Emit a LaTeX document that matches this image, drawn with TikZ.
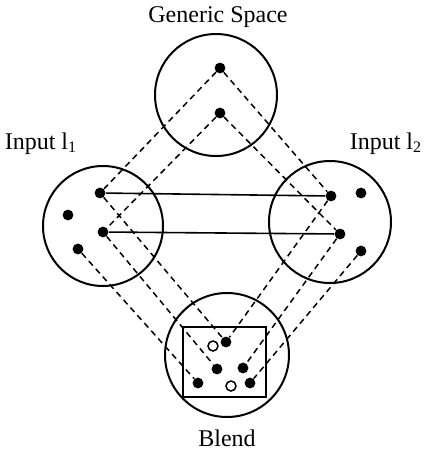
\documentclass[tikz,border=0pt]{standalone}
\usepackage{fontspec}
\setmainfont{Liberation Serif}
\usetikzlibrary{positioning, calc}

\begin{document}
\begin{tikzpicture}[
    x=0.5pt, y=-0.5pt,
    space/.style={draw, circle, line width=1pt, inner sep=0pt},
    dot/.style={circle, fill, inner sep=0pt, minimum size=5.4pt},
    hole/.style={circle, draw, line width=0.75pt, inner sep=0pt, minimum size=5pt},
    link/.style={dash pattern=on 3pt off 2.2pt, line width=0.75pt},
    tie/.style={line width=0.8pt},
    lbl/.style={font=\fontsize{12}{14}\selectfont, anchor=base}
]
    \useasboundingbox (0,0) rectangle (425,452);
    % mental spaces
    \node[space, minimum size=61pt] (gen) at (216,95) {};
    \node[space, minimum size=60pt] (inA) at (103,226) {};
    \node[space, minimum size=61pt] (inB) at (330,222) {};
    \node[space, minimum size=62pt] (bld) at (227,355) {};
    \draw[line width=1pt] (183,327) rectangle (266,397);
    % labels
    \node[lbl] (genlbl) at (218,22) {Generic Space};
    \node[lbl] (inAlbl) at (41,149) {Input l\textsubscript{1}};
    \node[lbl] (inBlbl) at (386,149) {Input l\textsubscript{2}};
    \node[lbl] (bldlbl) at (227,446) {Blend};
    % elements
    \node[dot] (g1) at (220,68) {};
    \node[dot] (g2) at (220,113) {};
    \node[dot] (a1) at (100,193) {};
    \node[dot] (a2) at (68,215) {};
    \node[dot] (a3) at (103,232) {};
    \node[dot] (a4) at (78,249) {};
    \node[dot] (b1) at (331,196) {};
    \node[dot] (b2) at (361,193) {};
    \node[dot] (b3) at (340,234) {};
    \node[dot] (b4) at (361,251) {};
    \node[dot] (c1) at (226,342) {};
    \node[hole] (c2) at (213,346) {};
    \node[dot] (c3) at (217,369) {};
    \node[dot] (c4) at (243,368) {};
    \node[dot] (c5) at (198,383) {};
    \node[hole] (c6) at (231,386) {};
    \node[dot] (c7) at (250,383) {};
    % cross-space mappings
    \draw[tie] (a1) -- (b1);
    \draw[tie] (a3) -- (b3);
    % projections
    \draw[link] (g1) -- (a1);
    \draw[link] (g1) -- (b1);
    \draw[link] (g2) -- (a3);
    \draw[link] (g2) -- (b3);
    \draw[link] (a1) -- (c1);
    \draw[link] (a3) -- (c3);
    \draw[link] (a4) -- (c5);
    \draw[link] (b1) -- (c1);
    \draw[link] (b3) -- (c4);
    \draw[link] (b4) -- (c7);
\end{tikzpicture}
\end{document}
